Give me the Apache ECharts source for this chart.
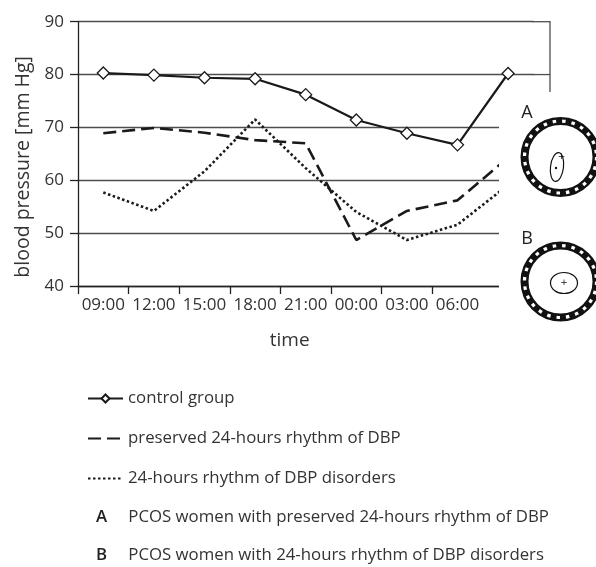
<!DOCTYPE html>
<html><head><meta charset="utf-8">
<script src="https://cdn.jsdelivr.net/npm/echarts@6/dist/echarts.min.js"></script>
<style>html,body{margin:0;padding:0;background:#fff}#c{width:596px;height:567px}</style>
</head><body><div id="c"></div>
<script>
// ---- data ----
const timeLabels = ['09:00','12:00','15:00','18:00','21:00','00:00','03:00','06:00','09:00'];
const shownLabelCount = 8;
const controlGroup    = [80.3, 79.9, 79.4, 79.2, 76.2, 71.4, 68.9, 66.7, 80.2];
const preservedRhythm = [68.9, 69.9, 69.0, 67.6, 67.0, 48.7, 54.2, 56.2, 64.3];
const rhythmDisorders = [57.7, 54.2, 61.7, 71.5, 62.3, 54.0, 48.7, 51.6, 59.1];
const seriesNames = ['control group', 'preserved 24-hours rhythm of DBP', '24-hours rhythm of DBP disorders'];
const groupLetters = ['A', 'B'];
const groupTexts = ['PCOS women with preserved 24-hours rhythm of DBP', 'PCOS women with 24-hours rhythm of DBP disorders'];
const yMin = 40, yMax = 90, yStep = 10;

const FONT = 'Open Sans';
const TXT = '#333';
const LEG = 16.8;
const chart = echarts.init(document.getElementById('c'), null, {renderer: 'canvas'});

const option = {
  animation: false,
  backgroundColor: '#fff',
  textStyle: {fontFamily: FONT, color: TXT},
  grid: {left: 78, top: 21.7, bottom: 281, width: 455.4, containLabel: false},
  xAxis: {
    type: 'category', data: timeLabels, boundaryGap: true,
    name: 'time', nameLocation: 'middle', nameGap: 45,
    nameTextStyle: {fontFamily: FONT, fontSize: 19, color: TXT, padding: [0, 32, 0, 0]},
    axisLine: {lineStyle: {color: '#222', width: 1.3}},
    axisTick: {show: true, length: 8, lineStyle: {color: '#222', width: 1.3}},
    axisLabel: {fontFamily: FONT, fontSize: 17, color: TXT, margin: 11,
      interval: (i) => i < shownLabelCount},
    splitLine: {show: false}
  },
  yAxis: {
    type: 'value', min: yMin, max: yMax, interval: yStep,
    name: 'blood pressure [mm Hg]', nameLocation: 'middle', nameGap: 42,
    nameTextStyle: {fontFamily: FONT, fontSize: 19.5, color: TXT, padding: [0, 26, 0, 0]},
    axisLine: {show: true, lineStyle: {color: '#222', width: 1.3}},
    axisTick: {show: true, length: 8, lineStyle: {color: '#222', width: 1.3}},
    axisLabel: {fontFamily: FONT, fontSize: 17, color: TXT, margin: 14},
    splitLine: {show: true, lineStyle: {color: '#4d4d4d', width: 1.3}}
  },
  legend: {
    orient: 'vertical', left: 82, top: 385,
    itemWidth: 35, itemHeight: 10, itemGap: 23,
    data: [
      {name: seriesNames[0]},
      {name: seriesNames[1], itemStyle: {opacity: 0}},
      {name: seriesNames[2], itemStyle: {opacity: 0}}
    ],
    textStyle: {fontFamily: FONT, fontSize: LEG, color: TXT, lineHeight: 16}
  },
  series: [
    {name: seriesNames[0], type: 'line', data: controlGroup, z: 5,
     symbol: 'diamond', symbolSize: 12, showSymbol: true,
     lineStyle: {color: '#1a1a1a', width: 2.2},
     itemStyle: {color: '#fff', borderColor: '#1a1a1a', borderWidth: 1.3}},
    {name: seriesNames[1], type: 'line', data: preservedRhythm, z: 4,
     symbol: 'none',
     lineStyle: {color: '#1a1a1a', width: 2.6, type: [13, 6]},
     itemStyle: {color: '#1a1a1a'}},
    {name: seriesNames[2], type: 'line', data: rhythmDisorders, z: 3,
     symbol: 'none',
     lineStyle: {color: '#1a1a1a', width: 2.6, type: [2.5, 2.5]},
     itemStyle: {color: '#1a1a1a'}}
  ]
};
chart.setOption(option);

// ---- decorations: frame extension, inset cover, circles, A/B legend rows ----
const y90 = chart.convertToPixel({yAxisIndex: 0}, yMax);
const y80 = chart.convertToPixel({yAxisIndex: 0}, yMax - yStep);
const gridRight = 78 + 455.4;
const frameRight = 550;
const coverLeft = 499, coverTop = 92;

function ring(cx, cy, r) {
  return [
    {type: 'circle', z: 110, shape: {cx, cy, r: r - 4}, style: {fill: 'none', stroke: '#111', lineWidth: 8}},
    {type: 'circle', z: 111, shape: {cx, cy, r: r - 4}, style: {fill: 'none', stroke: '#fff', lineWidth: 3.2, lineDash: [3.5, 6]}}
  ];
}
const g = [
  {type: 'line', z: 50, shape: {x1: gridRight - 1, y1: y90, x2: frameRight, y2: y90}, style: {stroke: '#4d4d4d', lineWidth: 1.3}},
  {type: 'line', z: 50, shape: {x1: gridRight - 1, y1: y80, x2: frameRight, y2: y80}, style: {stroke: '#4d4d4d', lineWidth: 1.3}},
  {type: 'line', z: 50, shape: {x1: frameRight, y1: y90 - 0.6, x2: frameRight, y2: coverTop}, style: {stroke: '#4d4d4d', lineWidth: 1.3}},
  {type: 'rect', z: 100, shape: {x: coverLeft, y: coverTop, width: 596 - coverLeft, height: 250}, style: {fill: '#fff'}},
  {type: 'text', z: 112, style: {x: 527, y: 113, text: groupLetters[0], font: '18px "' + FONT + '"', fill: '#222', align: 'center', verticalAlign: 'middle'}},
  {type: 'text', z: 112, style: {x: 527, y: 239, text: groupLetters[1], font: '18px "' + FONT + '"', fill: '#222', align: 'center', verticalAlign: 'middle'}},
  ...ring(560.5, 157, 40),
  ...ring(560.5, 281.5, 40),
  {type: 'ellipse', z: 112, x: 557, y: 167, rotation: -0.12, shape: {cx: 0, cy: 0, rx: 6.5, ry: 14.5}, style: {fill: 'none', stroke: '#111', lineWidth: 1.2}},
  {type: 'circle', z: 112, shape: {cx: 556, cy: 168, r: 1.2}, style: {fill: '#111'}},
  {type: 'text', z: 112, style: {x: 561.5, y: 157, text: '+', font: '9px "DejaVu Sans"', fill: '#111', align: 'center', verticalAlign: 'middle'}},
  {type: 'ellipse', z: 112, shape: {cx: 564, cy: 283, rx: 13.5, ry: 10.5}, style: {fill: 'none', stroke: '#111', lineWidth: 1.2}},
  {type: 'text', z: 112, style: {x: 564, y: 283, text: '+', font: '9px "DejaVu Sans"', fill: '#111', align: 'center', verticalAlign: 'middle'}},
];
groupLetters.forEach((L, i) => {
  const yy = 517 + i * 38.5;
  g.push({type: 'text', z: 112, style: {x: 101.5, y: yy, text: L, font: '600 ' + LEG + 'px "' + FONT + '"', fill: '#222', align: 'center', verticalAlign: 'middle'}});
  g.push({type: 'text', z: 112, style: {x: 128.3, y: yy, text: groupTexts[i], font: LEG + 'px "' + FONT + '"', fill: TXT, align: 'left', verticalAlign: 'middle'}});
});
chart.setOption({graphic: {elements: g}});
</script></body></html>
